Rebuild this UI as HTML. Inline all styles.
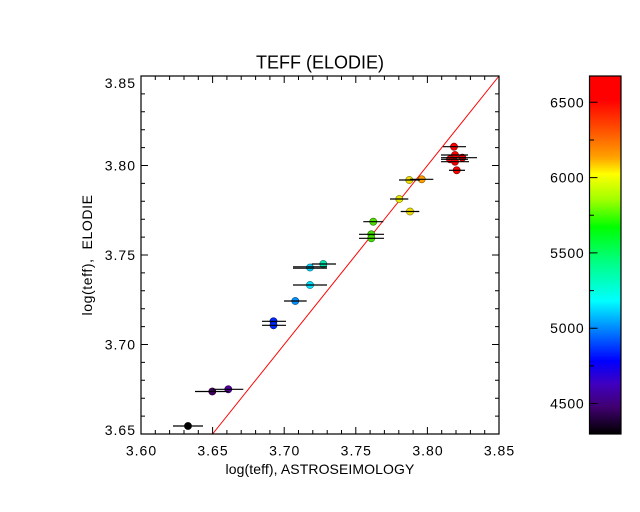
<!DOCTYPE html>
<html><head><meta charset="utf-8"><style>
html,body{margin:0;padding:0;background:#fff;}
svg{display:block;}
text{font-family:"Liberation Sans",sans-serif;fill:#000;}
</style></head><body>
<svg width="640" height="512" viewBox="0 0 640 512" xmlns="http://www.w3.org/2000/svg">
<defs>
<linearGradient id="cb" x1="0" y1="0" x2="0" y2="1">
<stop offset="0" stop-color="#ff0000"/>
<stop offset="0.067" stop-color="#ff0000"/>
<stop offset="0.15" stop-color="#ff5000"/>
<stop offset="0.226" stop-color="#ffa000"/>
<stop offset="0.274" stop-color="#ffff00"/>
<stop offset="0.346" stop-color="#a0ff00"/>
<stop offset="0.422" stop-color="#00ff00"/>
<stop offset="0.517" stop-color="#00ff80"/>
<stop offset="0.628" stop-color="#00ffff"/>
<stop offset="0.70" stop-color="#0090ff"/>
<stop offset="0.796" stop-color="#0000ff"/>
<stop offset="0.86" stop-color="#4000c0"/>
<stop offset="0.925" stop-color="#400070"/>
<stop offset="1" stop-color="#000000"/>
</linearGradient>
</defs>

<text x="320" y="68.5" font-size="18" text-anchor="middle">TEFF (ELODIE)</text>

<!-- diagonal -->
<line x1="212.6" y1="434" x2="499" y2="76" stroke="#ff0000" stroke-width="1"/>

<!-- points -->
<g stroke-width="0.6">
<circle cx="188" cy="426" r="3.6" fill="#000000" stroke="#000"/>
<circle cx="212.3" cy="391.5" r="3.6" fill="#40005a" stroke="#200030"/>
<circle cx="228.3" cy="389.3" r="3.6" fill="#5000a0" stroke="#280050"/>
<circle cx="273.5" cy="321.3" r="3.6" fill="#0028ff" stroke="#001080"/>
<circle cx="273.5" cy="325.3" r="3.6" fill="#0028ff" stroke="#001080"/>
<circle cx="295.3" cy="301" r="3.6" fill="#0090ff" stroke="#004880"/>
<circle cx="310" cy="285" r="3.6" fill="#00e0ff" stroke="#007080"/>
<circle cx="310" cy="267.5" r="3.6" fill="#00d0ff" stroke="#006880"/>
<circle cx="323.3" cy="264" r="3.6" fill="#00e8b0" stroke="#007458"/>
<circle cx="373.3" cy="221.7" r="3.6" fill="#50e000" stroke="#287000"/>
<circle cx="371.3" cy="234.3" r="3.6" fill="#40e000" stroke="#207000"/>
<circle cx="371.3" cy="238.3" r="3.6" fill="#40e000" stroke="#207000"/>
<circle cx="399.3" cy="199" r="3.6" fill="#e8e800" stroke="#747400"/>
<circle cx="409.3" cy="180" r="3.6" fill="#f0e000" stroke="#787000"/>
<circle cx="421.7" cy="179.3" r="3.6" fill="#ffa000" stroke="#805000"/>
<circle cx="410" cy="211.5" r="3.6" fill="#f0e000" stroke="#787000"/>
<circle cx="454" cy="146.7" r="3.6" fill="#ff0000" stroke="#800000"/>
<circle cx="455" cy="155" r="3.6" fill="#ff0000" stroke="#800000"/>
<circle cx="462.3" cy="157.7" r="3.6" fill="#f00000" stroke="#800000"/>
<circle cx="450" cy="159.3" r="3.6" fill="#ff0000" stroke="#800000"/>
<circle cx="455" cy="161.7" r="3.6" fill="#f00000" stroke="#800000"/>
<circle cx="456.7" cy="170.3" r="3.6" fill="#ff0000" stroke="#800000"/>
</g>

<!-- error bars -->
<g stroke="#000" stroke-width="1.2">
<line x1="173" y1="426" x2="203" y2="426"/>
<line x1="195" y1="391.5" x2="229" y2="391.5"/>
<line x1="213" y1="389.3" x2="243.3" y2="389.3"/>
<line x1="262" y1="321.3" x2="286" y2="321.3"/>
<line x1="262" y1="325.3" x2="286" y2="325.3"/>
<line x1="284" y1="301" x2="306.7" y2="301"/>
<line x1="293" y1="285" x2="327" y2="285"/>
<line x1="293" y1="266.8" x2="327" y2="266.8"/>
<line x1="293" y1="268.2" x2="327" y2="268.2"/>
<line x1="311.7" y1="264" x2="336" y2="264"/>
<line x1="363.3" y1="221.7" x2="383.3" y2="221.7"/>
<line x1="359" y1="234.3" x2="384" y2="234.3"/>
<line x1="359" y1="238.3" x2="384" y2="238.3"/>
<line x1="390" y1="199" x2="408.3" y2="199"/>
<line x1="399" y1="180" x2="420" y2="180"/>
<line x1="410" y1="179.3" x2="433.3" y2="179.3"/>
<line x1="400.7" y1="211.5" x2="419.3" y2="211.5"/>
<line x1="443" y1="146.7" x2="466" y2="146.7"/>
<line x1="441" y1="155" x2="468" y2="155"/>
<line x1="441" y1="157.7" x2="477" y2="157.7"/>
<line x1="441" y1="159.3" x2="468" y2="159.3"/>
<line x1="441" y1="161.7" x2="469" y2="161.7"/>
<line x1="449" y1="170.3" x2="465" y2="170.3"/>
</g>

<!-- axes box -->
<rect x="141" y="76" width="358" height="358" fill="none" stroke="#000" stroke-width="1.2"/>

<!-- ticks -->
<g stroke="#000" stroke-width="1">
<!-- x ticks bottom/top -->
<path d="
M141,434v-7 M155.3,434v-4 M169.6,434v-4 M184,434v-4 M198.3,434v-4
M212.6,434v-7 M226.9,434v-4 M241.2,434v-4 M255.6,434v-4 M269.9,434v-4
M284.2,434v-7 M298.5,434v-4 M312.8,434v-4 M327.2,434v-4 M341.5,434v-4
M355.8,434v-7 M370.1,434v-4 M384.4,434v-4 M398.8,434v-4 M413.1,434v-4
M427.4,434v-7 M441.7,434v-4 M456,434v-4 M470.4,434v-4 M484.7,434v-4 M499,434v-7
M141,76v7 M155.3,76v4 M169.6,76v4 M184,76v4 M198.3,76v4
M212.6,76v7 M226.9,76v4 M241.2,76v4 M255.6,76v4 M269.9,76v4
M284.2,76v7 M298.5,76v4 M312.8,76v4 M327.2,76v4 M341.5,76v4
M355.8,76v7 M370.1,76v4 M384.4,76v4 M398.8,76v4 M413.1,76v4
M427.4,76v7 M441.7,76v4 M456,76v4 M470.4,76v4 M484.7,76v4 M499,76v7
"/>
<!-- y ticks left/right -->
<path d="
M141,434h7 M141,416.1h4 M141,398.2h4 M141,380.3h4 M141,362.4h4
M141,344.5h7 M141,326.6h4 M141,308.7h4 M141,290.8h4 M141,272.9h4
M141,255h7 M141,237.1h4 M141,219.2h4 M141,201.3h4 M141,183.4h4
M141,165.5h7 M141,147.6h4 M141,129.7h4 M141,111.8h4 M141,93.9h4 M141,76h7
M499,434h-7 M499,416.1h-4 M499,398.2h-4 M499,380.3h-4 M499,362.4h-4
M499,344.5h-7 M499,326.6h-4 M499,308.7h-4 M499,290.8h-4 M499,272.9h-4
M499,255h-7 M499,237.1h-4 M499,219.2h-4 M499,201.3h-4 M499,183.4h-4
M499,165.5h-7 M499,147.6h-4 M499,129.7h-4 M499,111.8h-4 M499,93.9h-4 M499,76h-7
"/>
</g>

<!-- x tick labels -->
<g font-size="14" text-anchor="middle" letter-spacing="1">
<text x="141.5" y="455.5">3.60</text>
<text x="213" y="455.5">3.65</text>
<text x="284.7" y="455.5">3.70</text>
<text x="356.3" y="455.5">3.75</text>
<text x="428" y="455.5">3.80</text>
<text x="499.5" y="455.5">3.85</text>
</g>
<!-- y tick labels -->
<g font-size="14" text-anchor="end" letter-spacing="1">
<text x="136" y="88">3.85</text>
<text x="136" y="170.5">3.80</text>
<text x="136" y="260">3.75</text>
<text x="136" y="349.5">3.70</text>
<text x="136" y="435">3.65</text>
</g>

<text x="320" y="474" font-size="14" text-anchor="middle" letter-spacing="0.1">log(teff), ASTROSEIMOLOGY</text>
<text transform="translate(92,255) rotate(-90)" font-size="14" text-anchor="middle" letter-spacing="0.6" xml:space="preserve">log(teff),  ELODIE</text>

<!-- colorbar -->
<rect x="589.5" y="76" width="31.5" height="358" fill="url(#cb)" stroke="#000" stroke-width="1.2"/>
<g stroke="#000" stroke-width="1">
<path d="M589.5,102.3h8 M589.5,177.6h8 M589.5,252.9h8 M589.5,328.2h8 M589.5,403.5h8
M589.5,140h4.5 M589.5,215.3h4.5 M589.5,290.6h4.5 M589.5,365.9h4.5"/>
</g>
<g font-size="14" text-anchor="end" letter-spacing="0.8">
<text x="584.5" y="107.3">6500</text>
<text x="584.5" y="182.6">6000</text>
<text x="584.5" y="257.9">5500</text>
<text x="584.5" y="333.2">5000</text>
<text x="584.5" y="408.5">4500</text>
</g>
</svg>
</body></html>
